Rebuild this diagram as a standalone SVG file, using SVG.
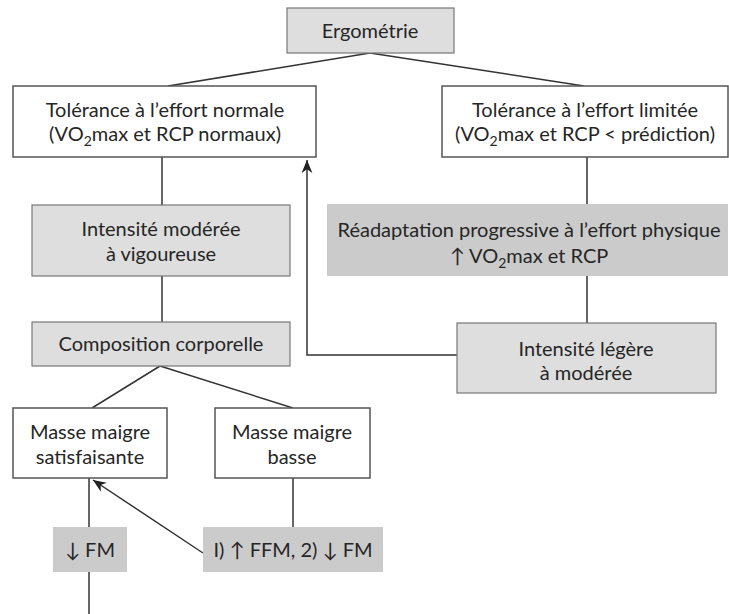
<svg xmlns="http://www.w3.org/2000/svg" width="729" height="614" viewBox="0 0 729 614">
<defs>
<marker id="ah" viewBox="0 0 12 10" refX="12" refY="5" markerWidth="13" markerHeight="11" markerUnits="userSpaceOnUse" orient="auto">
<path d="M0,0 L12,5 L0,10 L3.5,5 Z" fill="#222"/>
</marker>
</defs>
<style>
.w{fill:#ffffff;stroke:#555;stroke-width:1.5}
.g{fill:#dedede;stroke:#777;stroke-width:1.2}
.d{fill:#cbcbcb;stroke:none}
text{font-family:Lato,"Open Sans",sans-serif;font-size:20px;fill:#262626;text-anchor:middle}
.c line,.c polyline{stroke:#333;stroke-width:1.5;fill:none}
</style>
<rect width="729" height="614" fill="#fff"/>
<g class="c" id="connectors">
<line x1="370" y1="53" x2="168" y2="86"/>
<line x1="370" y1="53" x2="584" y2="86"/>
<line x1="162" y1="157" x2="162" y2="205"/>
<line x1="162" y1="276" x2="162" y2="322"/>
<line x1="587" y1="157" x2="587" y2="204"/>
<line x1="587" y1="276" x2="587" y2="323"/>
<polyline points="457,355 307,355 307,160" marker-end="url(#ah)"/>
<line x1="160" y1="366" x2="92" y2="408"/>
<line x1="160" y1="366" x2="293" y2="408"/>
<line x1="89" y1="478" x2="89" y2="527"/>
<line x1="89" y1="572" x2="89" y2="614"/>
<line x1="293" y1="478" x2="293" y2="527"/>
<line x1="203" y1="553" x2="93" y2="480" marker-end="url(#ah)"/>
</g>
<g id="ergometrie"><rect class="g" x="287" y="8" width="167" height="45"/><text x="370" y="38">Ergométrie</text></g>
<g id="tol-normale"><rect class="w" x="13" y="86" width="303" height="71"/><text x="165" y="117">Tolérance à l’effort normale</text><text x="165" y="141">(VO<tspan font-size="14" dy="5">2</tspan><tspan dy="-5">max et RCP normaux)</tspan></text></g>
<g id="tol-limitee"><rect class="w" x="442" y="86" width="286" height="71"/><text x="585" y="117">Tolérance à l’effort limitée</text><text x="585" y="141">(VO<tspan font-size="14" dy="5">2</tspan><tspan dy="-5">max et RCP &lt; prédiction)</tspan></text></g>
<g id="int-moderee"><rect class="g" x="32" y="205" width="258" height="71"/><text x="161" y="236">Intensité modérée</text><text x="161" y="261">à vigoureuse</text></g>
<g id="readaptation"><rect class="d" x="327" y="204" width="401" height="72"/><text x="529" y="237">Réadaptation progressive à l’effort physique</text><text x="529" y="263">↑ VO<tspan font-size="14" dy="5">2</tspan><tspan dy="-5">max et RCP</tspan></text></g>
<g id="composition"><rect class="g" x="32" y="322" width="258" height="44"/><text x="161" y="351">Composition corporelle</text></g>
<g id="int-legere"><rect class="g" x="457" y="323" width="259" height="70"/><text x="586" y="356">Intensité légère</text><text x="586" y="380">à modérée</text></g>
<g id="mm-satisf"><rect class="w" x="13" y="408" width="154" height="70"/><text x="90" y="439">Masse maigre</text><text x="90" y="464">satisfaisante</text></g>
<g id="mm-basse"><rect class="w" x="215" y="408" width="155" height="70"/><text x="292" y="439">Masse maigre</text><text x="292" y="464">basse</text></g>
<g id="fm"><rect class="d" x="53" y="527" width="74" height="45"/><text x="90" y="557">↓ FM</text></g>
<g id="ffm"><rect class="d" x="203" y="527" width="180" height="45"/><text x="293" y="557">I) ↑ FFM, 2) ↓ FM</text></g>
</svg>
